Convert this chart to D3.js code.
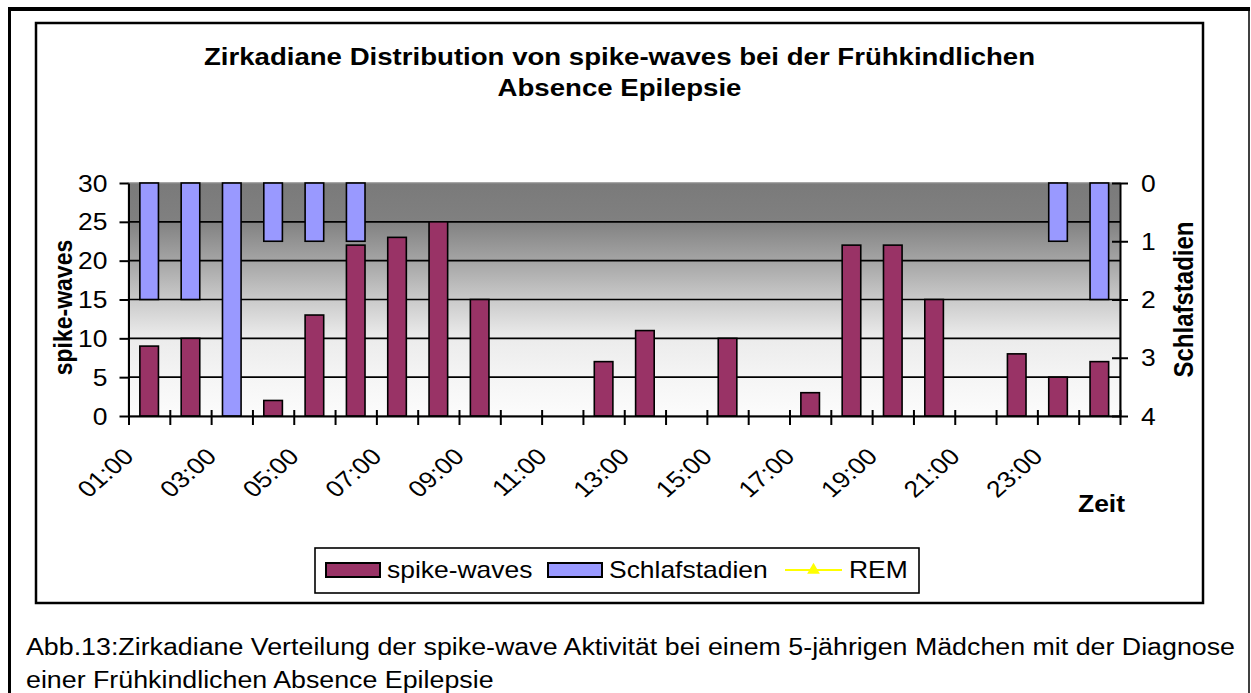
<!DOCTYPE html>
<html>
<head>
<meta charset="utf-8">
<script src="https://cdn.jsdelivr.net/npm/d3@7"></script>
<style>
	body { margin: 0; background: #fff; }
	svg { display: block; font-family: "Liberation Sans", Arial, sans-serif; }
</style>
</head>
<body>
<div id="container"></div>
<script>
const hours = ["01:00", "02:00", "03:00", "04:00", "05:00", "06:00", "07:00", "08:00",
	"09:00", "10:00", "11:00", "12:00", "13:00", "14:00", "15:00", "16:00",
	"17:00", "18:00", "19:00", "20:00", "21:00", "22:00", "23:00", "24:00"];
const spikeWaves = [9, 10, 0, 2, 13, 22, 23, 25, 15, 0, 0, 7, 11, 0, 10, 0, 3, 22, 22, 15, 0, 8, 5, 7];
const sleepStages = [2, 2, 4, 1, 1, 1, 0, 0, 0, 0, 0, 0, 0, 0, 0, 0, 0, 0, 0, 0, 0, 0, 1, 2];
const remValues = [null, null, null, null, null, null, null, null, null, null, null, null,
	null, null, null, null, null, null, null, null, null, null, null, null];
const leftTicks = [0, 5, 10, 15, 20, 25, 30];
const rightTicks = [0, 1, 2, 3, 4];
const seriesNames = ["spike-waves", "Schlafstadien", "REM"];
const titleLines = ["Zirkadiane Distribution von spike-waves bei der Frühkindlichen", "Absence Epilepsie"];
const captionLines = [
	"Abb.13:Zirkadiane Verteilung der spike-wave Aktivität bei einem 5-jährigen Mädchen mit der Diagnose",
	"einer Frühkindlichen Absence Epilepsie"
];

const width = 1251;
const height = 693;
const sx = 1.15; // chart picture is stretched horizontally
const plot = { left: 128.5, right: 1120, top: 183, bottom: 416 };
const colors = { spike: "#993366", sleep: "#9999ff", rem: "#ffff00" };

const svg = d3.select("#container")
	.append("svg")
	.attr("width", width)
	.attr("height", height);

// page frame
svg.append("line").attr("x1", 8).attr("x2", 1250).attr("y1", 9).attr("y2", 9)
	.attr("stroke", "#000").attr("stroke-width", 4);
svg.append("line").attr("x1", 9.5).attr("x2", 9.5).attr("y1", 7).attr("y2", height)
	.attr("stroke", "#000").attr("stroke-width", 3);
svg.append("line").attr("x1", 1249).attr("x2", 1249).attr("y1", 9).attr("y2", height)
	.attr("stroke", "#000").attr("stroke-width", 1.5);

// chart box
svg.append("rect")
	.attr("x", 36).attr("y", 23).attr("width", 1167).attr("height", 580)
	.attr("fill", "#fff").attr("stroke", "#000").attr("stroke-width", 2.5);

// plot background gradient
const grad = svg.append("defs").append("linearGradient")
	.attr("id", "plotBg").attr("x1", 0).attr("y1", 0).attr("x2", 0).attr("y2", 1);
[[0, "#7a7a7a"], [0.16, "#808080"], [0.34, "#a6a6a6"], [0.5, "#cacaca"],
	[0.66, "#ebebeb"], [0.84, "#f5f5f5"], [1, "#fcfcfc"]].forEach(([o, c]) => {
	grad.append("stop").attr("offset", o).attr("stop-color", c);
});

const y = d3.scaleLinear().domain([0, 30]).range([plot.bottom, plot.top]);
const y2 = d3.scaleLinear().domain([0, 4]).range([plot.top, plot.bottom]);
const xCat = d3.scaleBand().domain(hours).range([plot.left, plot.right]).padding(0);
const xBar = d3.scaleBand().domain(hours).range([plot.left, plot.right])
	.paddingInner(0.55).paddingOuter(0.275);
const xEdge = d3.scaleLinear().domain([0, hours.length]).range([plot.left, plot.right]);

svg.append("rect")
	.attr("x", plot.left).attr("y", plot.top)
	.attr("width", plot.right - plot.left).attr("height", plot.bottom - plot.top)
	.attr("fill", "url(#plotBg)").attr("stroke", "#8a8a8a").attr("stroke-width", 1.5);

// gridlines
svg.append("g")
	.selectAll("line")
	.data(leftTicks.filter((t) => t > 0 && t < 30))
	.enter()
	.append("line")
	.attr("x1", plot.left).attr("x2", plot.right)
	.attr("y1", (d) => y(d)).attr("y2", (d) => y(d))
	.attr("stroke", "#000").attr("stroke-width", 1.6);

// spike-wave bars
svg.append("g")
	.selectAll("rect")
	.data(hours.map((h, i) => ({ h, v: spikeWaves[i] })).filter((d) => d.v > 0))
	.enter()
	.append("rect")
	.attr("x", (d) => xBar(d.h))
	.attr("y", (d) => y(d.v))
	.attr("width", xBar.bandwidth())
	.attr("height", (d) => y(0) - y(d.v))
	.attr("fill", colors.spike)
	.attr("stroke", "#000")
	.attr("stroke-width", 1.6);

// sleep stage bars (secondary axis, reversed)
svg.append("g")
	.selectAll("rect")
	.data(hours.map((h, i) => ({ h, v: sleepStages[i] })).filter((d) => d.v > 0))
	.enter()
	.append("rect")
	.attr("x", (d) => xBar(d.h))
	.attr("y", y2(0))
	.attr("width", xBar.bandwidth())
	.attr("height", (d) => y2(d.v) - y2(0))
	.attr("fill", colors.sleep)
	.attr("stroke", "#000")
	.attr("stroke-width", 1.6);

// REM line (no values recorded)
const remLine = d3.line()
	.defined((d) => d != null)
	.x((d, i) => xCat(hours[i]) + xCat.bandwidth() / 2)
	.y((d) => y2(d));
svg.append("path")
	.attr("d", remLine(remValues))
	.attr("fill", "none")
	.attr("stroke", colors.rem)
	.attr("stroke-width", 2);

function stretchText(sel, dx, anchor) {
	sel.attr("x", null)
		.attr("dy", "0.35em")
		.attr("text-anchor", anchor)
		.attr("transform", `translate(${dx},0) scale(${sx},1)`)
		.attr("font-size", 23)
		.attr("fill", "#000");
}

// left axis
const leftAxis = svg.append("g")
	.attr("transform", `translate(${plot.left},0)`)
	.call(d3.axisLeft(y).tickValues(leftTicks).tickSizeInner(9).tickSizeOuter(0));
leftAxis.select(".domain").attr("stroke-width", 2);
leftAxis.selectAll(".tick line").attr("stroke-width", 2);
stretchText(leftAxis.selectAll(".tick text"), -21, "end");

// right axis
const rightAxis = svg.append("g")
	.attr("transform", `translate(${plot.right},0)`)
	.call(d3.axisRight(y2).tickValues(rightTicks).tickFormat(d3.format("d"))
		.tickSizeInner(8).tickSizeOuter(0));
rightAxis.select(".domain").attr("stroke-width", 2);
rightAxis.selectAll(".tick line").attr("x1", -8).attr("stroke-width", 2);
stretchText(rightAxis.selectAll(".tick text"), 21, "start");

// category axis
const bottomAxis = svg.append("g")
	.attr("transform", `translate(0,${plot.bottom})`)
	.call(d3.axisBottom(xEdge).tickValues(d3.range(hours.length + 1)).tickFormat("")
		.tickSizeInner(9).tickSizeOuter(0));
bottomAxis.select(".domain").attr("stroke-width", 2);
bottomAxis.selectAll(".tick line").attr("y1", -6).attr("stroke-width", 2);

svg.append("g")
	.selectAll("text")
	.data(hours.filter((h, i) => i % 2 === 0))
	.enter()
	.append("text")
	.attr("transform", (d) => `translate(${xCat(d) + xCat.bandwidth() / 2 - 14},458) scale(${sx},1) rotate(-45)`)
	.attr("text-anchor", "end")
	.attr("font-size", 23)
	.text((d) => d);

// titles
svg.append("g")
	.selectAll("text")
	.data(titleLines)
	.enter()
	.append("text")
	.attr("transform", (d, i) => `translate(619.5,${65 + i * 31}) scale(${sx},1)`)
	.attr("text-anchor", "middle")
	.attr("font-size", 24)
	.attr("font-weight", "bold")
	.text((d) => d);

svg.append("text")
	.attr("transform", `translate(72,${(plot.top + plot.bottom) / 2 + 8}) scale(${sx},1) rotate(-90)`)
	.attr("text-anchor", "middle")
	.attr("font-size", 23)
	.attr("font-weight", "bold")
	.text(seriesNames[0]);

svg.append("text")
	.attr("transform", `translate(1193,${(plot.top + plot.bottom) / 2}) scale(${sx},1) rotate(-90)`)
	.attr("text-anchor", "middle")
	.attr("font-size", 24)
	.attr("font-weight", "bold")
	.text(seriesNames[1]);

svg.append("text")
	.attr("transform", `translate(1101.5,512) scale(${sx},1)`)
	.attr("text-anchor", "middle")
	.attr("font-size", 23)
	.attr("font-weight", "bold")
	.text("Zeit");

// legend
const legend = svg.append("g");
legend.append("rect")
	.attr("x", 315).attr("y", 548).attr("width", 604).attr("height", 45)
	.attr("fill", "#fff").attr("stroke", "#000").attr("stroke-width", 1.6);
const legendX = [326, 548, 785];
const legendItems = legend.selectAll("g.item")
	.data(seriesNames)
	.enter()
	.append("g")
	.attr("class", "item")
	.attr("transform", (d, i) => `translate(${legendX[i]},570)`);
legendItems.filter((d, i) => i < 2)
	.append("rect")
	.attr("x", 0).attr("y", -7).attr("width", 54).attr("height", 14)
	.attr("fill", (d, i) => (i === 0 ? colors.spike : colors.sleep))
	.attr("stroke", "#000").attr("stroke-width", 2);
legendItems.filter((d, i) => i === 2)
	.append("line")
	.attr("x1", 0).attr("x2", 57).attr("y1", 0).attr("y2", 0)
	.attr("stroke", colors.rem).attr("stroke-width", 2);
legendItems.filter((d, i) => i === 2)
	.append("path")
	.attr("d", d3.symbol(d3.symbolTriangle, 70)())
	.attr("transform", "translate(28.5,0)")
	.attr("fill", colors.rem);
legendItems.append("text")
	.attr("transform", (d, i) => `translate(${i === 2 ? 64 : 61},8) scale(${sx},1)`)
	.attr("font-size", 23)
	.text((d) => d);

// caption
const caption = svg.append("g")
	.selectAll("text")
	.data(captionLines)
	.enter()
	.append("text")
	.attr("x", 26)
	.attr("y", (d, i) => 655 + i * 33)
	.attr("font-size", 23.5)
	.text((d) => d);
const natural = caption.nodes()[0].getComputedTextLength();
const ratio = 1209 / natural;
caption.each(function () {
	const len = this.getComputedTextLength() * ratio;
	d3.select(this).attr("textLength", len).attr("lengthAdjust", "spacingAndGlyphs");
});
</script>
</body>
</html>
